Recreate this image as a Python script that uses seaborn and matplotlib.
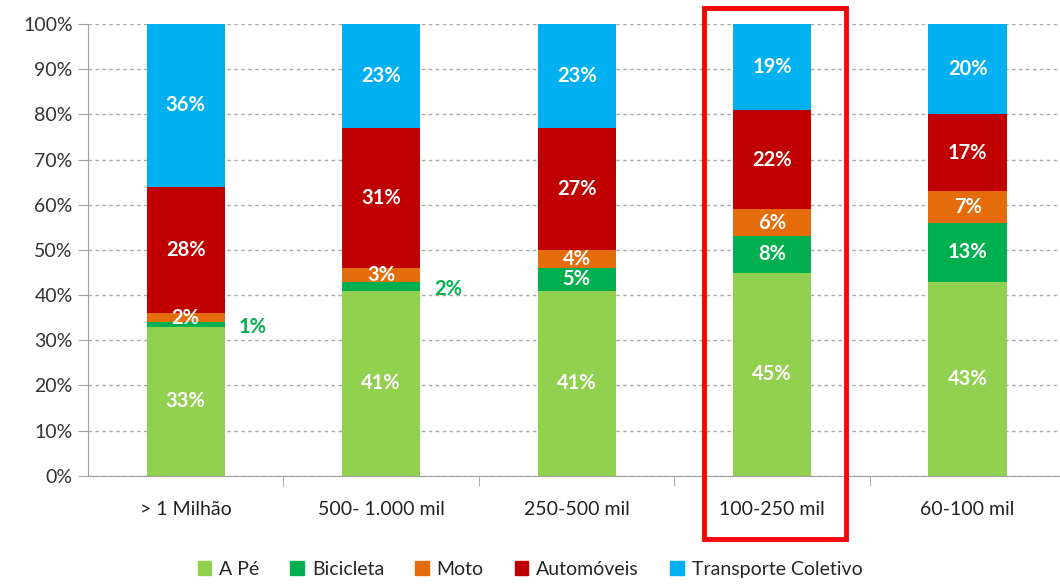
import matplotlib.pyplot as plt
import seaborn as sns
import pandas as pd
import numpy as np
from matplotlib.patches import Rectangle
from matplotlib.ticker import FixedLocator, PercentFormatter

# ---------------- Data ----------------
categories = ["> 1 Milhão", "500- 1.000 mil", "250-500 mil", "100-250 mil", "60-100 mil"]
modes = ["A Pé", "Bicicleta", "Moto", "Automóveis", "Transporte Coletivo"]
a_pe = [33, 41, 41, 45, 43]
bicicleta = [1, 2, 5, 8, 13]
moto = [2, 3, 4, 6, 7]
automoveis = [28, 31, 27, 22, 17]
transporte = [36, 23, 23, 19, 20]
colors = ["#92D050", "#00B050", "#E46C0A", "#C00000", "#00B0F0"]

series = [a_pe, bicicleta, moto, automoveis, transporte]
df = pd.DataFrame({"categoria": categories})
for name, vals in zip(modes, series):
    df[name] = vals

# ---------------- Plot ----------------
sns.set_style("white")
plt.rcParams['font.family'] = ['Lato', 'DejaVu Sans']

fig = plt.figure(figsize=(10.6, 5.86), dpi=100)
ax = fig.add_axes([0.083, 0.188, 0.922, 0.771])

bottom = np.zeros(len(categories))
for name, color in zip(modes, colors):
    sns.barplot(data=df, x="categoria", y=name, color=color, width=0.4,
                bottom=bottom, ax=ax, zorder=3, label=name, saturation=1,
                linewidth=0)
    vals = df[name].values
    for i, v in enumerate(vals):
        mid = bottom[i] + v / 2
        txt = f"{v}%"
        if name == "Bicicleta" and v < 3:
            ax.text(i + 0.27, mid - 0.6, txt, color="#00B050", fontsize=14.5,
                    fontweight="bold", ha="left", va="center", zorder=5)
        else:
            ax.text(i, mid, txt, color="white", fontsize=14.5, fontweight="bold",
                    ha="center", va="center", zorder=5)
    bottom = bottom + vals

if ax.get_legend() is not None:
    ax.get_legend().remove()

ax.set_ylim(0, 100)
ax.set_xlim(-0.5, 4.5)
ax.yaxis.set_major_locator(FixedLocator(range(0, 101, 10)))
ax.yaxis.set_major_formatter(PercentFormatter(100, decimals=0))
ax.grid(axis="y", linestyle=(0, (2.5, 2.5)), color="#a8a8a8", linewidth=1, zorder=0)
ax.set_xlabel("")
ax.set_ylabel("")

for s in ["top", "right"]:
    ax.spines[s].set_visible(False)
ax.spines["left"].set_color("#a0a0a0")
ax.spines["bottom"].set_color("#a0a0a0")

ax.tick_params(axis="y", labelsize=14, labelcolor="#333333", length=7,
               color="#a0a0a0", left=True, pad=4)
ax.tick_params(axis="x", which="major", labelsize=14, labelcolor="#222222",
               length=0, pad=18)
ax.set_xticks([0.5, 1.5, 2.5, 3.5], minor=True)
ax.tick_params(axis="x", which="minor", length=7, color="#a0a0a0", bottom=True)

# Red highlight box around 100-250 mil
ax.add_patch(Rectangle((3 - 0.35, -14), 0.73, 117.5, fill=False,
                       edgecolor="#FF0000", linewidth=3.5, clip_on=False, zorder=6))

handles = [Rectangle((0, 0), 1, 1, color=c) for c in colors]
fig.legend(handles, modes, loc="center", bbox_to_anchor=(0.5, 0.028),
           ncol=5, frameon=False, fontsize=14, handlelength=0.7, handleheight=0.7,
           handletextpad=0.4, columnspacing=1.6)

fig.savefig("out.png", dpi=100)
